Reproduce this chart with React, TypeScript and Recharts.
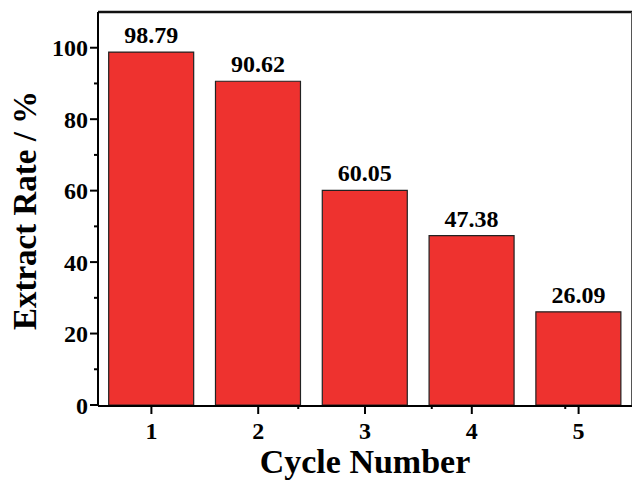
import React from "react";
import { BarChart, Bar, XAxis, YAxis, LabelList, Label } from "recharts";

const cycles = ["1", "2", "3", "4", "5"];
const rates = [98.79, 90.62, 60.05, 47.38, 26.09];
const yMajorTicks = [0, 20, 40, 60, 80, 100];
const yMinorTicks = [10, 30, 50, 70, 90];
const xMinorTicks = [1.5, 2.5, 3.5, 4.5];
const yAllTicks = [...yMajorTicks, ...yMinorTicks].sort((a, b) => a - b);

const data = cycles.map((c, i) => ({ cycle: c, rate: rates[i] }));

const FONT = "'Liberation Serif', 'Times New Roman', serif";
const EmptyTick = () => <g />;

const YTick = (props: any) => {
  const { x, y, payload } = props;
  const v = payload.value;
  const isMajor = yMajorTicks.includes(v);
  const axisX = x + 10;
  return (
    <g>
      <line
        x1={axisX - (isMajor ? 8 : 4)}
        x2={axisX}
        y1={y}
        y2={y}
        stroke="#000"
        strokeWidth={2}
      />
      {isMajor && (
        <text
          x={x}
          y={y}
          dy="0.355em"
          textAnchor="end"
          fill="#000"
          fontFamily={FONT}
          fontWeight="bold"
          fontSize={24}
        >
          {v}
        </text>
      )}
    </g>
  );
};

export default function App() {
  return (
    <div style={{ width: 632, height: 482, background: "#fff" }}>
      <style>{`body{margin:0;}`}</style>
      <BarChart
        width={632}
        height={482}
        data={data}
        margin={{ top: 11, right: -1, left: 0, bottom: 0 }}
        barCategoryGap="10%"
      >
        <XAxis
          xAxisId={0}
          type="number"
          domain={[0.5, 5.5]}
          ticks={xMinorTicks}
          height={1}
          tickSize={4}
          axisLine={false}
          tickLine={{ stroke: "#000", strokeWidth: 2 }}
          tick={EmptyTick}
        />
        <XAxis
          dataKey="cycle"
          xAxisId={1}
          height={76}
          tickSize={8}
          tickMargin={8}
          axisLine={{ stroke: "#000", strokeWidth: 2 }}
          tickLine={{ stroke: "#000", strokeWidth: 2 }}
          tick={{ fill: "#000", fontFamily: FONT, fontWeight: "bold", fontSize: 24 }}
        >
          <Label
            content={(props: any) => {
              const vb = props.viewBox;
              return (
                <text
                  x={vb.x + vb.width / 2}
                  y={vb.y + 67}
                  textAnchor="middle"
                  fontFamily={FONT}
                  fontWeight="bold"
                  fontSize={34}
                  fill="#000"
                >
                  Cycle Number
                </text>
              );
            }}
          />
        </XAxis>
        <XAxis
          xAxisId={2}
          orientation="top"
          type="number"
          domain={[0.5, 5.5]}
          ticks={xMinorTicks}
          height={1}
          tick={EmptyTick}
          tickLine={false}
          axisLine={{ stroke: "#111", strokeWidth: 2.5 }}
        />
        <YAxis
          yAxisId={0}
          domain={[0, 110]}
          ticks={yAllTicks}
          interval={0}
          width={98}
          tickSize={8}
          tickMargin={2}
          axisLine={{ stroke: "#000", strokeWidth: 2 }}
          tickLine={false}
          tick={YTick}
        >
          <Label
            content={(props: any) => {
              const vb = props.viewBox;
              const cx = 36;
              const cy = vb.y + vb.height / 2 + 2;
              return (
                <text
                  x={cx}
                  y={cy}
                  transform={`rotate(-90, ${cx}, ${cy})`}
                  textAnchor="middle"
                  fontFamily={FONT}
                  fontWeight="bold"
                  fontSize={33}
                  fill="#000"
                >
                  Extract Rate / %
                </text>
              );
            }}
          />
        </YAxis>
        <YAxis
          yAxisId={2}
          orientation="right"
          domain={[0, 110]}
          ticks={yMinorTicks}
          width={1}
          tick={EmptyTick}
          tickLine={false}
          axisLine={{ stroke: "#555", strokeWidth: 2 }}
        />
        <Bar
          dataKey="rate"
          xAxisId={1}
          yAxisId={0}
          fill="#EE322F"
          stroke="#222"
          strokeWidth={1.2}
          isAnimationActive={false}
        >
          <LabelList
            dataKey="rate"
            position="top"
            offset={9}
            formatter={(v: any) => Number(v).toFixed(2)}
            style={{ fill: "#000", fontFamily: FONT, fontWeight: "bold", fontSize: 24 }}
          />
        </Bar>
      </BarChart>
    </div>
  );
}
